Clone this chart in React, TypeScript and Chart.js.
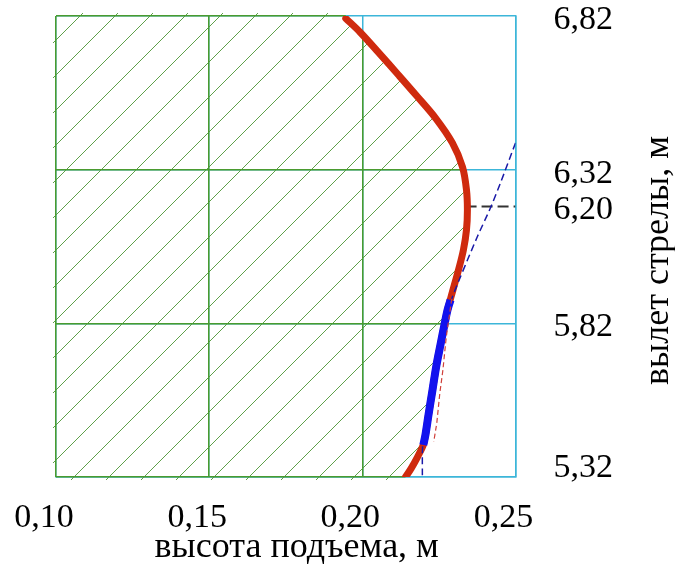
import React, { useEffect, useRef } from "react";
import { Chart, registerables } from "chart.js";

Chart.register(...registerables);

// Axis ticks
const X_TICKS = [0.1, 0.15, 0.2, 0.25];
const Y_TICKS = [5.32, 5.82, 6.2, 6.32, 6.82];
const Y_REF = 6.2; // reference level (dashed black mark)

const X_TITLE = "высота подъема, м";
const Y_TITLE = "вылет стрелы, м";

// Main red curve (x = height, y = reach)
const CURVE_X = [0.1946, 0.1992, 0.2054, 0.2118, 0.2175, 0.2239, 0.2294, 0.2327, 0.234, 0.2343, 0.234, 0.233, 0.2314, 0.2294, 0.2278, 0.2268, 0.2255, 0.2242, 0.2229, 0.2216, 0.2206, 0.2199, 0.218, 0.216, 0.2141];
const CURVE_Y = [6.812, 6.768, 6.7, 6.628, 6.563, 6.488, 6.407, 6.329, 6.254, 6.189, 6.124, 6.059, 5.994, 5.922, 5.863, 5.815, 5.75, 5.684, 5.603, 5.522, 5.457, 5.424, 5.385, 5.349, 5.32];

// Blue thick segment
const BLUE_X = [0.2288, 0.2278, 0.2268, 0.2255, 0.2242, 0.2229, 0.2216, 0.2206, 0.2199];
const BLUE_Y = [5.896, 5.863, 5.815, 5.75, 5.684, 5.603, 5.522, 5.457, 5.424];

// Blue thin dashed line
const BLUE_DASH_X = [0.25, 0.2451, 0.2418, 0.2375, 0.2294, 0.2268, 0.2242, 0.2216, 0.2199, 0.2196, 0.2196];
const BLUE_DASH_Y = [6.407, 6.277, 6.195, 6.101, 5.906, 5.815, 5.684, 5.522, 5.45, 5.4, 5.32];

// Red thin dashed line
const RED_DASH_X = [0.2292, 0.2274, 0.2263, 0.2253, 0.2243, 0.2233];
const RED_DASH_Y = [5.9, 5.776, 5.668, 5.593, 5.495, 5.434];

// Black dashed mark at 6,20
const BLACK_X = [0.2337, 0.25];

const GREEN = "#4a9b2f";
const CYAN = "#3cb6d9";
const HATCH = "#5fa04a";
const FONT = '"Liberation Serif", "Times New Roman", serif';
const NONE = "rgba(0,0,0,0)";

const pts = (xs: number[], ys: number[]) => xs.map((x, i) => ({ x, y: ys[i] }));
const fmt = (v: number) => Number(v).toFixed(2).replace(".", ",");

const alignPx = (p: number, w: number) => Math.round(p - w / 2) + w / 2;

const hatchPlugin = {
  id: "hatchPlugin",
  beforeDatasetsDraw(chart: any) {
    const { ctx, chartArea: a, scales } = chart;
    const xs = scales.x;
    const ys = scales.y;
    ctx.save();
    ctx.beginPath();
    ctx.moveTo(a.left - 3, a.top - 3);
    ctx.lineTo(xs.getPixelForValue(CURVE_X[0]), a.top - 3);
    for (let i = 0; i < CURVE_X.length; i++) {
      ctx.lineTo(xs.getPixelForValue(CURVE_X[i]), ys.getPixelForValue(CURVE_Y[i]));
    }
    ctx.lineTo(xs.getPixelForValue(CURVE_X[CURVE_X.length - 1]), a.bottom + 3);
    ctx.lineTo(a.left - 3, a.bottom + 3);
    ctx.closePath();
    ctx.clip();

    // diagonal hatching
    ctx.strokeStyle = HATCH;
    ctx.lineWidth = 1;
    const step = 35;
    const phase = a.left + a.top + 24;
    const y0 = a.bottom + 5;
    const y1 = a.top - 5;
    for (let c = phase - step * 40; c < a.right + a.bottom + step; c += step) {
      ctx.beginPath();
      ctx.moveTo(c - y0, y0);
      ctx.lineTo(c - y1, y1);
      ctx.stroke();
    }

    // green grid inside hatched region
    ctx.strokeStyle = GREEN;
    ctx.lineWidth = 1.5;
    for (const v of X_TICKS) {
      const p = alignPx(xs.getPixelForValue(v), 1.5);
      ctx.beginPath();
      ctx.moveTo(p, a.top);
      ctx.lineTo(p, a.bottom);
      ctx.stroke();
    }
    for (const v of Y_TICKS) {
      if (Math.abs(v - Y_REF) < 1e-9) continue;
      const p = alignPx(ys.getPixelForValue(v), 1.5);
      ctx.beginPath();
      ctx.moveTo(a.left, p);
      ctx.lineTo(a.right, p);
      ctx.stroke();
    }
    ctx.restore();
  },
  afterDraw(chart: any) {
    const { ctx, chartArea: a } = chart;
    ctx.save();
    ctx.fillStyle = "#000";
    ctx.font = `36px ${FONT}`;
    ctx.textAlign = "center";
    ctx.textBaseline = "alphabetic";
    ctx.fillText(X_TITLE, (a.left + a.right) / 2 + 11, a.bottom + 80);
    ctx.translate(a.right + 152, (a.top + a.bottom) / 2 + 14);
    ctx.rotate(-Math.PI / 2);
    ctx.fillText(Y_TITLE, 0, 0);
    ctx.restore();
  },
};

export default function App() {
  const ref = useRef<HTMLCanvasElement | null>(null);

  useEffect(() => {
    if (!ref.current) return;
    const chart = new Chart(ref.current, {
      type: "scatter",
      data: {
        datasets: [
          {
            data: pts(RED_DASH_X, RED_DASH_Y),
            showLine: true,
            borderColor: "#d0403a",
            borderWidth: 1.2,
            borderDash: [5, 3],
            pointRadius: 0,
            tension: 0,
            order: 0,
          },
          {
            data: pts(BLUE_X, BLUE_Y),
            showLine: true,
            borderColor: "#1212ee",
            borderWidth: 8,
            pointRadius: 0,
            tension: 0.3,
            order: 1,
          },
          {
            data: pts(BLUE_DASH_X, BLUE_DASH_Y),
            showLine: true,
            borderColor: "#1a1aa8",
            borderWidth: 1.5,
            borderDash: [7, 4],
            pointRadius: 0,
            tension: 0.2,
            order: 2,
          },
          {
            data: pts(CURVE_X, CURVE_Y),
            showLine: true,
            borderColor: "#cf2a0e",
            borderWidth: 7,
            borderCapStyle: "round",
            pointRadius: 0,
            tension: 0.35,
            order: 3,
          },
          {
            data: pts(BLACK_X, [Y_REF, Y_REF]),
            showLine: true,
            borderColor: "#333333",
            borderWidth: 2,
            borderDash: [11, 5],
            pointRadius: 0,
            order: 4,
          },
        ],
      },
      options: {
        responsive: false,
        animation: false,
        events: [],
        layout: { padding: { left: 56, top: 16, right: 62, bottom: 47 } },
        plugins: { legend: { display: false }, tooltip: { enabled: false } },
        scales: {
          x: {
            type: "linear",
            min: 0.1,
            max: 0.25,
            afterBuildTicks: (ax: any) => {
              ax.ticks = X_TICKS.map((v) => ({ value: v }));
            },
            grid: { color: CYAN, lineWidth: 1.5, drawTicks: true, tickLength: 24, tickColor: NONE },
            border: { color: CYAN, width: 1.5 },
            ticks: {
              color: "#000",
              font: { family: FONT, size: 34, lineHeight: 1 },
              padding: 0,
              labelOffset: -12,
              maxRotation: 0,
              autoSkip: false,
              callback: (v: any) => fmt(v),
            },
          },
          y: {
            type: "linear",
            position: "right",
            min: 5.32,
            max: 6.82,
            afterBuildTicks: (ax: any) => {
              ax.ticks = Y_TICKS.map((v) => ({ value: v }));
            },
            grid: {
              color: (c: any) =>
                c.tick && Math.abs(c.tick.value - Y_REF) < 1e-9 ? NONE : CYAN,
              lineWidth: 1.5,
              drawTicks: true,
              tickLength: 38,
              tickColor: NONE,
            },
            border: { color: CYAN, width: 1.5 },
            ticks: {
              color: "#000",
              font: (c: any) => ({ family: FONT, size: 34, lineHeight: c.index === 0 ? 0.76 : 0.4 }),
              padding: 0,
              labelOffset: 4,
              autoSkip: false,
              callback: (v: any, i: number) => (i === 0 ? [fmt(v), ""] : fmt(v)),
            },
          },
        },
      },
      plugins: [hatchPlugin],
    } as any);
    return () => chart.destroy();
  }, []);

  return (
    <div style={{ position: "absolute", left: 0, top: 0, width: 675, height: 582, background: "#fff" }}>
      <canvas ref={ref} width={675} height={582} style={{ display: "block", width: 675, height: 582 }} />
    </div>
  );
}
